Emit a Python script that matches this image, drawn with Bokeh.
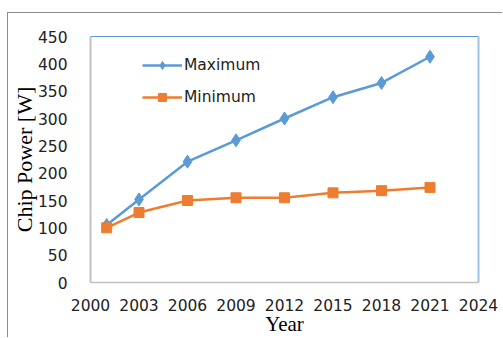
from bokeh.plotting import figure
from bokeh.models import FixedTicker, LinearAxis, Legend, LegendItem, Range1d
from bokeh.embed import file_html
from bokeh.resources import INLINE

# Chip power trend by year
years = [2001, 2003, 2006, 2009, 2012, 2015, 2018, 2021]
maximum = [105, 152, 221, 260, 300, 339, 365, 413]
minimum = [100, 128, 150, 155, 155, 164, 168, 174]
x_ticks = [2000, 2003, 2006, 2009, 2012, 2015, 2018, 2021, 2024]
y_ticks = [0, 50, 100, 150, 200, 250, 300, 350, 400, 450]

BLUE = "#5B9BD5"
ORANGE = "#ED7D31"
TICK_FONT = "DejaVu Sans"
TITLE_FONT = "Liberation Serif"

p = figure(width=495, height=325, output_backend="svg", toolbar_location=None,
           x_range=Range1d(2000, 2024), y_range=Range1d(0, 450),
           min_border_left=80, min_border_top=23,
           min_border_right=25, min_border_bottom=56)
# grey chart-area border on the left and top
p.margin = (12, 0, 0, 7)
p.styles = {"border-left": "1px solid #8c8c8c", "border-top": "1px solid #8c8c8c"}

p.outline_line_color = None
p.xgrid.visible = False
p.ygrid.visible = False
p.background_fill_color = "white"
p.border_fill_color = "white"

for ax, ticks in ((p.xaxis[0], x_ticks), (p.yaxis[0], y_ticks)):
    ax.ticker = FixedTicker(ticks=ticks)
    ax.axis_line_color = "#c0c0c0"
    ax.major_tick_line_color = None
    ax.minor_tick_line_color = None
    ax.major_label_text_font = TICK_FONT
    ax.major_label_text_font_size = "15.5px"
    ax.major_label_text_color = "#222222"
    ax.axis_label_text_font = TITLE_FONT
    ax.axis_label_text_font_style = "normal"
    ax.axis_label_text_color = "black"

p.yaxis[0].axis_line_width = 2
p.xaxis[0].axis_line_width = 1.5

p.xaxis[0].major_label_standoff = 10
p.xaxis[0].axis_label = "Year"
p.xaxis[0].axis_label_text_font_size = "21px"
p.xaxis[0].axis_label_standoff = -2

p.yaxis[0].major_label_standoff = 17
p.yaxis[0].axis_label = "Chip Power [W]"
p.yaxis[0].axis_label_text_font_size = "22px"
p.yaxis[0].axis_label_standoff = -2

# blue top and right frame edges
top = LinearAxis(major_label_text_font_size="0px", major_tick_line_color=None,
                 minor_tick_line_color=None, axis_line_color=BLUE,
                 ticker=FixedTicker(ticks=[]))
right = LinearAxis(major_label_text_font_size="0px", major_tick_line_color=None,
                   minor_tick_line_color=None, axis_line_color="#9DC3E6",
                   axis_line_width=2, ticker=FixedTicker(ticks=[]))
p.add_layout(top, "above")
p.add_layout(right, "right")

l1 = p.line(years, maximum, line_color=BLUE, line_width=2.5)
s1 = p.scatter(years, maximum, marker="diamond", size=13, color=BLUE)
l2 = p.line(years, minimum, line_color=ORANGE, line_width=2.5)
s2 = p.scatter(years, minimum, marker="square", size=10, color=ORANGE)

legend = Legend(items=[LegendItem(label="Maximum", renderers=[l1, s1]),
                       LegendItem(label="Minimum", renderers=[l2, s2])],
                location=(52, 175), glyph_width=40, glyph_height=20,
                spacing=12, padding=0, margin=0, label_standoff=2,
                label_text_font=TICK_FONT, label_text_font_size="15.5px",
                label_text_color="#222222",
                border_line_alpha=0, background_fill_alpha=0)
p.add_layout(legend, "center")

open("out.html", "w").write(file_html(p, INLINE))
